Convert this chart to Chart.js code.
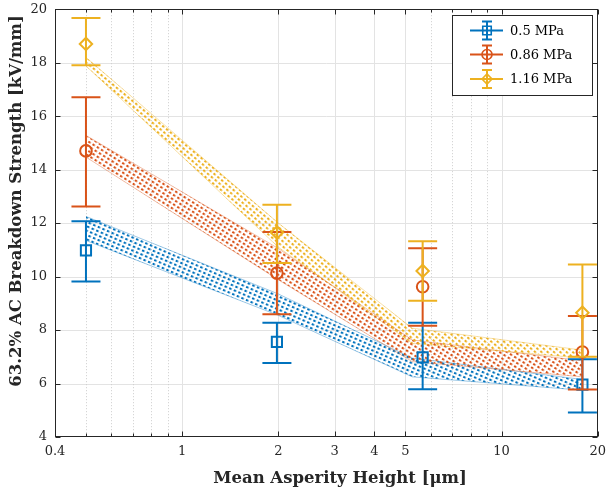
<!DOCTYPE html>
<html>
<head>
<meta charset="utf-8">
<script src="https://cdn.jsdelivr.net/npm/chart.js@4/dist/chart.umd.min.js"></script>
<style>
  html, body { margin: 0; padding: 0; background: #fff; }
  canvas { display: block; }
</style>
</head>
<body>
<canvas id="c" width="607" height="492"></canvas>
<script>
// Mean asperity height of each electrode finish [µm]
const asperityHeight = [0.5, 1.98, 5.66, 17.9];

// 63.2 % breakdown strength with lower / upper confidence limits [kV/mm]
const seriesNames = ['0.5 MPa', '0.86 MPa', '1.16 MPa'];
const mean05  = [10.98, 7.56, 6.98, 5.96];
const low05   = [9.82, 6.77, 5.79, 4.92];
const high05  = [12.07, 8.27, 8.27, 6.91];
const mean086 = [14.70, 10.13, 9.62, 7.18];
const low086  = [12.62, 8.59, 8.16, 5.78];
const high086 = [16.71, 11.67, 11.06, 8.53];
const mean116 = [18.70, 11.65, 10.21, 8.65];
const low116  = [17.90, 10.51, 9.10, 7.00];
const high116 = [19.67, 12.69, 11.32, 10.45];

// Model prediction bands
const bandHeight = [0.5, 2.0, 5.25, 17.9];
const bandUpper05  = [12.25, 9.35, 6.95, 6.15];
const bandLower05  = [11.35, 8.55, 6.25, 5.75];
const bandUpper086 = [15.28, 11.05, 7.63, 6.85];
const bandLower086 = [14.47, 9.88, 6.82, 6.25];
const bandUpper116 = [18.20, 12.00, 8.07, 7.25];
const bandLower116 = [17.88, 11.10, 7.50, 6.95];

// Axis ticks
const xTickValues = [0.4, 1, 2, 3, 4, 5, 10, 20];
const xMinorValues = [0.5, 0.6, 0.7, 0.8, 0.9, 6, 7, 8, 9];
const yTickValues = [4, 6, 8, 10, 12, 14, 16, 18, 20];

const xTitle = 'Mean Asperity Height [\u03bcm]';
const yTitle = '63.2% AC Breakdown Strength [kV/mm]';

const BLUE = '#0072BD', ORANGE = '#D95319', YELLOW = '#EDB120';
const SERIF = '"DejaVu Serif", "Liberation Serif", serif';

const pts = (xs, ys) => xs.map((x, i) => ({ x, y: ys[i] }));

function rgba(hex, a) {
  const n = parseInt(hex.slice(1), 16);
  return `rgba(${(n >> 16) & 255},${(n >> 8) & 255},${n & 255},${a})`;
}

// rows of small square dots (5 px along a row, 4 px between rows)
function dotPattern(color) {
  const t = document.createElement('canvas');
  t.width = 5; t.height = 4;
  const g = t.getContext('2d');
  g.fillStyle = color;
  g.fillRect(0, 0, 2.5, 2);
  return g.createPattern(t, 'repeat');
}

const series = [
  { name: seriesNames[2], color: YELLOW, style: 'rectRot', r: 6.2, mean: mean116, low: low116, high: high116, up: bandUpper116, lo: bandLower116 },
  { name: seriesNames[1], color: ORANGE, style: 'circle', r: 5.8, mean: mean086, low: low086, high: high086, up: bandUpper086, lo: bandLower086 },
  { name: seriesNames[0], color: BLUE, style: 'rect', r: 7.2, mean: mean05, low: low05, high: high05, up: bandUpper05, lo: bandLower05 }
];
series.forEach(s => { s.pattern = dotPattern(s.color); });

const datasets = [];
// markers (indices 0..2, drawn last so they sit on top)
series.forEach(s => datasets.push({
  label: s.name,
  data: pts(asperityHeight, s.mean),
  showLine: false,
  pointStyle: s.style,
  pointRadius: s.r,
  pointHoverRadius: s.r,
  pointBorderWidth: 2,
  borderColor: s.color,
  pointBackgroundColor: 'rgba(0,0,0,0)',
  backgroundColor: 'rgba(0,0,0,0)'
}));
// bands (upper edge fills down to lower edge)
series.forEach(s => {
  datasets.push({
    label: s.name + ' band upper',
    data: pts(bandHeight, s.up),
    showLine: true,
    pointRadius: 0,
    borderWidth: 0.7,
    borderColor: rgba(s.color, 0.55),
    backgroundColor: s.pattern,
    fill: '+1'
  });
  datasets.push({
    label: s.name + ' band lower',
    data: pts(bandHeight, s.lo),
    showLine: true,
    pointRadius: 0,
    borderWidth: 0.7,
    borderColor: rgba(s.color, 0.55),
    fill: false
  });
});

// light grid behind everything; dot rows follow the steep part of each band
const gridPlugin = {
  id: 'matlabGrid',
  beforeDatasetsDraw(chart) {
    const { ctx, chartArea: a, scales: { x, y } } = chart;
    series.forEach(s => {
      const dx = x.getPixelForValue(bandHeight[2]) - x.getPixelForValue(bandHeight[0]);
      const dy = y.getPixelForValue(s.up[2]) - y.getPixelForValue(s.up[0]);
      const ang = Math.atan2(dy, dx) * 180 / Math.PI;
      s.pattern.setTransform(new DOMMatrix().rotateSelf(ang));
    });
    ctx.save();
    ctx.lineWidth = 1;
    ctx.strokeStyle = '#e3e3e3';
    xTickValues.forEach(v => {
      const px = Math.round(x.getPixelForValue(v)) + 0.5;
      if (px <= a.left + 1 || px >= a.right - 1) return;
      ctx.beginPath(); ctx.moveTo(px, a.top); ctx.lineTo(px, a.bottom); ctx.stroke();
    });
    yTickValues.forEach(v => {
      const py = Math.round(y.getPixelForValue(v)) + 0.5;
      if (py <= a.top + 1 || py >= a.bottom - 1) return;
      ctx.beginPath(); ctx.moveTo(a.left, py); ctx.lineTo(a.right, py); ctx.stroke();
    });
    ctx.strokeStyle = '#cdcdcd';
    ctx.setLineDash([1, 2]);
    xMinorValues.forEach(v => {
      const px = Math.round(x.getPixelForValue(v)) + 0.5;
      ctx.beginPath(); ctx.moveTo(px, a.top); ctx.lineTo(px, a.bottom); ctx.stroke();
    });
    ctx.restore();
  }
};

// vertical confidence bars with caps, drawn just before each marker set
const errorBarPlugin = {
  id: 'errorBars',
  beforeDatasetDraw(chart, args) {
    if (args.index > 2) return;
    const s = series[args.index];
    const { ctx, scales: { x, y } } = chart;
    ctx.save();
    ctx.strokeStyle = s.color;
    ctx.lineWidth = 2;
    asperityHeight.forEach((h, i) => {
      const px = x.getPixelForValue(h);
      const y0 = y.getPixelForValue(s.low[i]);
      const y1 = y.getPixelForValue(s.high[i]);
      ctx.beginPath();
      ctx.moveTo(px, y0); ctx.lineTo(px, y1);
      ctx.moveTo(px - 14.5, y0); ctx.lineTo(px + 14.5, y0);
      ctx.moveTo(px - 14.5, y1); ctx.lineTo(px + 14.5, y1);
      ctx.stroke();
    });
    ctx.restore();
  }
};

function drawMarker(ctx, style, cx, cy, r) {
  ctx.beginPath();
  if (style === 'circle') {
    ctx.arc(cx, cy, r, 0, Math.PI * 2);
  } else if (style === 'rect') {
    const h = r * Math.SQRT1_2;
    ctx.rect(cx - h, cy - h, 2 * h, 2 * h);
  } else {
    ctx.moveTo(cx - r, cy); ctx.lineTo(cx, cy - r); ctx.lineTo(cx + r, cy); ctx.lineTo(cx, cy + r); ctx.closePath();
  }
  ctx.stroke();
}

// box, inward ticks, axis titles and legend on top
const framePlugin = {
  id: 'matlabFrame',
  afterDraw(chart) {
    const { ctx, chartArea: a, scales: { x, y } } = chart;
    ctx.save();
    ctx.strokeStyle = '#262626';
    ctx.lineWidth = 1;
    const L = Math.round(a.left) + 0.5, R = Math.round(a.right) - 0.5;
    const T = Math.round(a.top) + 0.5, B = Math.round(a.bottom) - 0.5;
    ctx.strokeRect(L, T, R - L, B - T);
    ctx.beginPath();
    const xt = (v, len) => {
      const px = Math.round(x.getPixelForValue(v)) + 0.5;
      ctx.moveTo(px, B); ctx.lineTo(px, B - len);
      ctx.moveTo(px, T); ctx.lineTo(px, T + len);
    };
    xTickValues.forEach(v => xt(v, 5));
    xMinorValues.forEach(v => xt(v, 3));
    yTickValues.forEach(v => {
      const py = Math.round(y.getPixelForValue(v)) + 0.5;
      ctx.moveTo(L, py); ctx.lineTo(L + 5, py);
      ctx.moveTo(R, py); ctx.lineTo(R - 5, py);
    });
    ctx.stroke();

    // axis titles
    ctx.fillStyle = '#262626';
    ctx.font = 'bold 16.5px ' + SERIF;
    ctx.textAlign = 'center';
    ctx.textBaseline = 'middle';
    ctx.fillText(xTitle, 340, 479);
    ctx.save();
    ctx.translate(17, 201);
    ctx.rotate(-Math.PI / 2);
    ctx.fillText(yTitle, 0, 0);
    ctx.restore();

    // legend
    const bx = 452.5, by = 15.5, bw = 140, bh = 80;
    ctx.fillStyle = '#fff';
    ctx.fillRect(bx, by, bw, bh);
    ctx.strokeStyle = '#262626';
    ctx.lineWidth = 1;
    ctx.strokeRect(bx, by, bw, bh);
    const rows = [series[2], series[1], series[0]];
    const rowY = [30.5, 54.5, 79];
    rows.forEach((s, i) => {
      const cy = rowY[i], cx = 487;
      ctx.strokeStyle = s.color;
      ctx.lineWidth = 2;
      ctx.beginPath();
      ctx.moveTo(470, cy); ctx.lineTo(503, cy);
      ctx.moveTo(cx, cy - 9); ctx.lineTo(cx, cy + 9);
      ctx.moveTo(cx - 5, cy - 9); ctx.lineTo(cx + 5, cy - 9);
      ctx.moveTo(cx - 5, cy + 9); ctx.lineTo(cx + 5, cy + 9);
      ctx.stroke();
      ctx.lineWidth = 1.6;
      drawMarker(ctx, s.style, cx, cy, s.style === 'rect' ? 6 : 5);
      ctx.fillStyle = '#000';
      ctx.font = '13px ' + SERIF;
      ctx.textBaseline = 'middle';
      ctx.textAlign = 'left';
      ctx.fillText(s.name, 510, cy + 1);
    });
    ctx.restore();
  }
};

new Chart(document.getElementById('c'), {
  type: 'scatter',
  data: { datasets },
  plugins: [gridPlugin, errorBarPlugin, framePlugin],
  options: {
    responsive: false,
    animation: false,
    layout: { padding: { left: 0, right: 9, top: 9, bottom: 0 } },
    plugins: { legend: { display: false }, tooltip: { enabled: false } },
    scales: {
      x: {
        type: 'logarithmic',
        min: 0.4,
        max: 20,
        afterBuildTicks: s => { s.ticks = xTickValues.map(v => ({ value: v })); },
        afterFit: s => { s.height = 55; s.paddingLeft = 0; s.paddingRight = 0; },
        grid: { display: false, drawTicks: false },
        border: { display: false },
        ticks: {
          autoSkip: false,
          maxRotation: 0,
          padding: 7,
          color: '#262626',
          font: { family: SERIF, size: 13 },
          callback: v => String(v)
        }
      },
      y: {
        min: 4,
        max: 20,
        afterBuildTicks: s => { s.ticks = yTickValues.map(v => ({ value: v })); },
        afterFit: s => { s.width = 55; s.paddingTop = 0; s.paddingBottom = 0; },
        grid: { display: false, drawTicks: false },
        border: { display: false },
        ticks: {
          padding: 8,
          color: '#262626',
          font: { family: SERIF, size: 13 }
        }
      }
    }
  }
});
</script>
</body>
</html>
